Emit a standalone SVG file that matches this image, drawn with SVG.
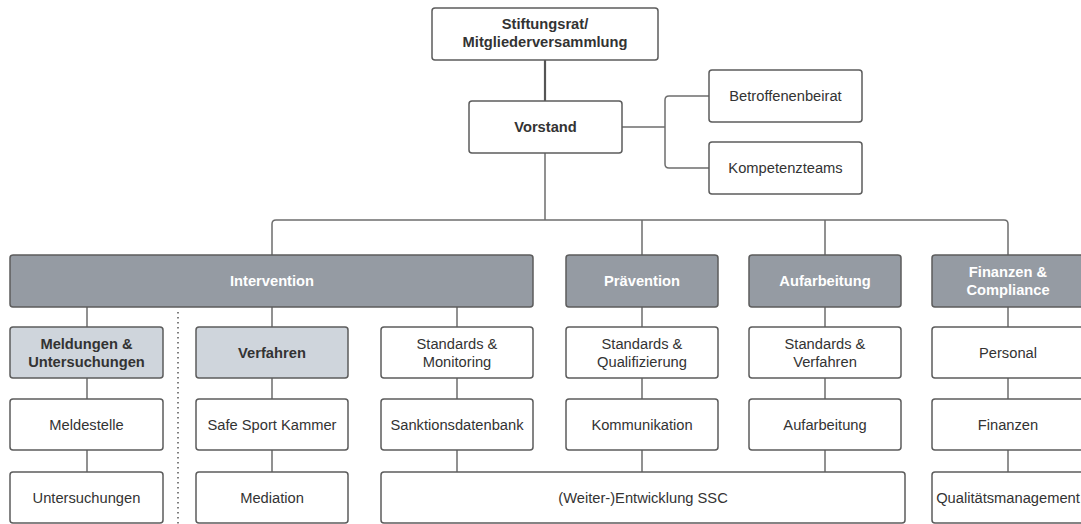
<svg xmlns="http://www.w3.org/2000/svg" width="1081" height="524" viewBox="0 0 1081 524">
<style>
.box{fill:#ffffff;stroke:#5c5c5c;stroke-width:1.5}
.dark{fill:#959ba3;stroke:#5c5c5c;stroke-width:1.5}
.light{fill:#cfd5dc;stroke:#5c5c5c;stroke-width:1.5}
.t{font-family:"Liberation Sans",Arial,sans-serif;font-size:14.7px;fill:#333333;text-anchor:middle}
.b{font-weight:bold}
.w{fill:#ffffff;font-weight:bold}
.c{fill:none;stroke:#6e6e6e;stroke-width:1.5}
</style>
<rect width="1081" height="524" fill="#ffffff"/>
<g id="connectors">
<line x1="545" y1="60" x2="545" y2="101" stroke="#555" stroke-width="2.2"/>
<path class="c" d="M622 127H665M709 96H669Q665 96 665 100V164Q665 168 669 168H709"/>
<path class="c" d="M545 153V220M272 255V224Q272 220 276 220H1004Q1008 220 1008 224V255M642 220V255M825 220V255"/>
<path class="c" d="M87 307V327M87 378V399M87 450V472"/>
<path class="c" d="M272 307V327M272 378V399M272 450V472"/>
<path class="c" d="M457 307V327M457 378V399M457 450V472"/>
<path class="c" d="M642 307V327M642 378V399M642 450V472"/>
<path class="c" d="M825 307V327M825 378V399M825 450V472"/>
<path class="c" d="M1008 307V327M1008 378V399M1008 450V472"/>
<line x1="178" y1="312" x2="178" y2="524" stroke="#555" stroke-width="1.5" stroke-dasharray="1.5,3.5"/>
</g>
<g id="stiftungsrat"><rect class="box" x="432" y="8" width="226" height="52" rx="3"/><text class="t b" x="545" y="29">Stiftungsrat/</text><text class="t b" x="545" y="47">Mitgliederversammlung</text></g>
<g id="vorstand"><rect class="box" x="469" y="101" width="153" height="52" rx="3"/><text class="t b" x="545.5" y="132">Vorstand</text></g>
<g id="betroffenenbeirat"><rect class="box" x="709" y="70" width="153" height="52" rx="3"/><text class="t" x="785.5" y="101">Betroffenenbeirat</text></g>
<g id="kompetenzteams"><rect class="box" x="709" y="142" width="153" height="52" rx="3"/><text class="t" x="785.5" y="173">Kompetenzteams</text></g>
<g id="intervention"><rect class="dark" x="10" y="255" width="523" height="52" rx="3"/><text class="t w" x="272" y="286">Intervention</text></g>
<g id="praevention"><rect class="dark" x="566" y="255" width="152" height="52" rx="3"/><text class="t w" x="642" y="286">Prävention</text></g>
<g id="aufarbeitung-head"><rect class="dark" x="749" y="255" width="152" height="52" rx="3"/><text class="t w" x="825" y="286">Aufarbeitung</text></g>
<g id="finanzen-compliance"><rect class="dark" x="932" y="255" width="152" height="52" rx="3"/><text class="t w" x="1008" y="277">Finanzen &amp;</text><text class="t w" x="1008" y="295">Compliance</text></g>
<g id="meldungen"><rect class="light" x="10" y="327" width="153" height="51" rx="3"/><text class="t b" x="86.5" y="348.5">Meldungen &amp;</text><text class="t b" x="86.5" y="366.5">Untersuchungen</text></g>
<g id="verfahren"><rect class="light" x="196" y="327" width="152" height="51" rx="3"/><text class="t b" x="272" y="357.5">Verfahren</text></g>
<g id="standards-monitoring"><rect class="box" x="381" y="327" width="152" height="51" rx="3"/><text class="t" x="457" y="348.5">Standards &amp;</text><text class="t" x="457" y="366.5">Monitoring</text></g>
<g id="standards-qualifizierung"><rect class="box" x="566" y="327" width="152" height="51" rx="3"/><text class="t" x="642" y="348.5">Standards &amp;</text><text class="t" x="642" y="366.5">Qualifizierung</text></g>
<g id="standards-verfahren"><rect class="box" x="749" y="327" width="152" height="51" rx="3"/><text class="t" x="825" y="348.5">Standards &amp;</text><text class="t" x="825" y="366.5">Verfahren</text></g>
<g id="personal"><rect class="box" x="932" y="327" width="152" height="51" rx="3"/><text class="t" x="1008" y="357.5">Personal</text></g>
<g id="meldestelle"><rect class="box" x="10" y="399" width="153" height="51" rx="3"/><text class="t" x="86.5" y="429.5">Meldestelle</text></g>
<g id="safe-sport-kammer"><rect class="box" x="196" y="399" width="152" height="51" rx="3"/><text class="t" x="272" y="429.5">Safe Sport Kammer</text></g>
<g id="sanktionsdatenbank"><rect class="box" x="381" y="399" width="152" height="51" rx="3"/><text class="t" x="457" y="429.5">Sanktionsdatenbank</text></g>
<g id="kommunikation"><rect class="box" x="566" y="399" width="152" height="51" rx="3"/><text class="t" x="642" y="429.5">Kommunikation</text></g>
<g id="aufarbeitung"><rect class="box" x="749" y="399" width="152" height="51" rx="3"/><text class="t" x="825" y="429.5">Aufarbeitung</text></g>
<g id="finanzen"><rect class="box" x="932" y="399" width="152" height="51" rx="3"/><text class="t" x="1008" y="429.5">Finanzen</text></g>
<g id="untersuchungen"><rect class="box" x="10" y="472" width="153" height="51" rx="3"/><text class="t" x="86.5" y="502.5">Untersuchungen</text></g>
<g id="mediation"><rect class="box" x="196" y="472" width="152" height="51" rx="3"/><text class="t" x="272" y="502.5">Mediation</text></g>
<g id="weiterentwicklung-ssc"><rect class="box" x="381" y="472" width="524" height="51" rx="3"/><text class="t" x="643" y="502.5">(Weiter-)Entwicklung SSC</text></g>
<g id="qualitaetsmanagement"><rect class="box" x="932" y="472" width="152" height="51" rx="3"/><text class="t" x="1008" y="502.5">Qualitätsmanagement</text></g>
</svg>
